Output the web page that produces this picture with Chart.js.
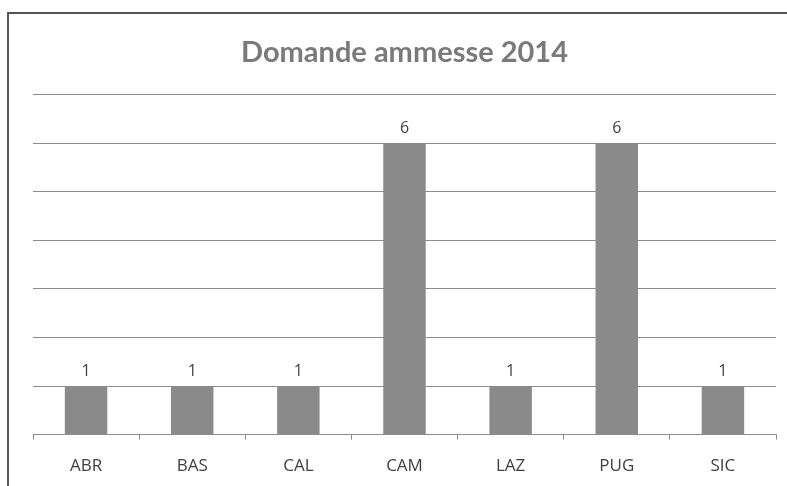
<!DOCTYPE html>
<html><head><meta charset="utf-8">
<script src="https://cdn.jsdelivr.net/npm/chart.js@4"></script>
<style>
html,body{margin:0;padding:0;background:#fff;width:787px;height:486px;overflow:hidden;}
#frame{position:absolute;left:7px;top:12px;width:790px;height:500px;border:2px solid #555;box-sizing:border-box;}
#wrap{position:absolute;left:0;top:0;width:787px;height:498px;}
</style></head>
<body>
<div id="frame"></div>
<div id="wrap"><canvas id="c"></canvas></div>
<script>
const categories = ["ABR","BAS","CAL","CAM","LAZ","PUG","SIC"];
const values = [1,1,1,6,1,6,1];
const chartTitle = "Domande ammesse 2014";

const valueLabels = {
  id:'valueLabels',
  afterDatasetsDraw(chart){
    const ctx = chart.ctx;
    const meta = chart.getDatasetMeta(0);
    ctx.save();
    ctx.fillStyle = '#404040';
    ctx.font = '16px "Open Sans", sans-serif';
    ctx.textAlign = 'center';
    ctx.textBaseline = 'middle';
    meta.data.forEach((bar,i)=>{
      ctx.fillText(String(values[i]), bar.x, bar.y - 15);
    });
    ctx.restore();
  }
};

new Chart(document.getElementById('c'), {
  type:'bar',
  data:{labels:categories, datasets:[{data:values, backgroundColor:'#8a8a8a', barPercentage:0.4, categoryPercentage:1}]},
  options:{
    responsive:true, maintainAspectRatio:false, animation:false,
    layout:{padding:{left:33, right:11, top:0, bottom:6}},
    plugins:{
      legend:{display:false}, tooltip:{enabled:false},
      title:{display:true, text:chartTitle, color:'#7a7a7a',
        font:{family:'Lato, "Open Sans", sans-serif', size:29, weight:'bold'},
        padding:{top:35, bottom:25}}
    },
    scales:{
      y:{min:0,max:7,
        ticks:{display:false, stepSize:1},
        grid:{color:'#8c8c8c', lineWidth:1, drawTicks:false},
        border:{display:false}},
      x:{
        grid:{offset:true, drawOnChartArea:false, drawTicks:true, tickLength:5, color:'#8c8c8c'},
        border:{display:true, color:'#8c8c8c'},
        ticks:{color:'#404040', padding:16, font:{family:'"Open Sans", sans-serif', size:17}}
      }
    }
  },
  plugins:[valueLabels]
});
</script>
</body></html>
